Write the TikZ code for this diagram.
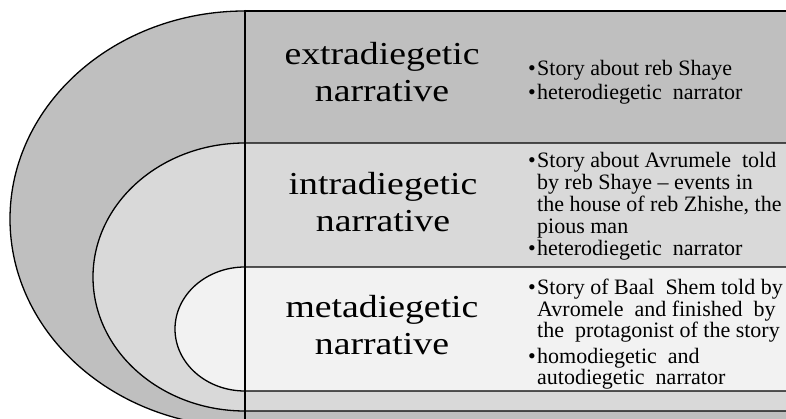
\documentclass[tikz,border=0pt]{standalone}
\usepackage{fontspec}
\setmainfont{Liberation Serif}
\newfontfamily\titlefont[FakeStretch=1.18]{Liberation Serif}
\definecolor{outergray}{RGB}{191,191,191}
\definecolor{middlegray}{RGB}{217,217,217}
\definecolor{innergray}{RGB}{242,242,242}

\begin{document}
\begin{tikzpicture}[x=1pt,y=1pt,
  band/.style={draw=black,line width=1.3pt},
  title/.style={align=center,anchor=base,font=\titlefont\fontsize{32}{37}\selectfont},
  notes/.style={anchor=base west,font=\fontsize{22}{21.5}\selectfont}]
  \tikzstyle{every node}+=[inner sep=0pt]
  \useasboundingbox (0,0) rectangle (786,419);
  \clip (0,0) rectangle (786,419);
  \draw [band,fill=outergray] (245,408) -- (800,408) -- (800,-8) -- (245,-8)
    arc [start angle=270,end angle=90,x radius=235pt,y radius=208pt] -- cycle;
  \draw [band,fill=middlegray] (245,276) -- (800,276) -- (800,8) -- (245,8)
    arc [start angle=270,end angle=90,x radius=152pt,y radius=134pt] -- cycle;
  \draw [band,fill=innergray] (245,152) -- (800,152) -- (800,28) -- (245,28)
    arc [start angle=270,end angle=90,x radius=70pt,y radius=62pt] -- cycle;
  \draw [line width=2pt] (245,409) -- (245,-8);
  \draw [line width=2pt] (245,408) -- (800,408);
  \node [title] (extra) at (382,317) {extradiegetic\\narrative};
  \node [title] (intra) at (383,187) {intradiegetic\\narrative};
  \node [title] (meta) at (382,64) {metadiegetic\\narrative};
  \node [notes] (extranotes) at (528,343) {\begin{tabular}[t]{@{}p{9pt}@{}l@{}}
    • & Story about reb Shaye\\[1.5pt]
    • & heterodiegetic\ \ narrator
  \end{tabular}};
  \node [notes] (intranotes) at (528,251) {\begin{tabular}[t]{@{}p{9pt}@{}l@{}}
    • & Story about Avrumele\ \ told\\
      & by reb Shaye -- events in\\
      & the house of reb Zhishe, the\\
      & pious man\\[0.5pt]
    • & heterodiegetic\ \ narrator
  \end{tabular}};
  \node [notes,font=\fontsize{22}{19.5}\selectfont] (metanotes) at (528,124) {\begin{tabular}[t]{@{}p{9pt}@{}l@{}}
    • & Story of Baal\ \ Shem told by\\
      & Avromele\ \ and finished\ \ by\\
      & the\ \ protagonist of the story\\[4.5pt]
    • & homodiegetic\ \ and\\
      & autodiegetic\ \ narrator
  \end{tabular}};
\end{tikzpicture}
\end{document}
